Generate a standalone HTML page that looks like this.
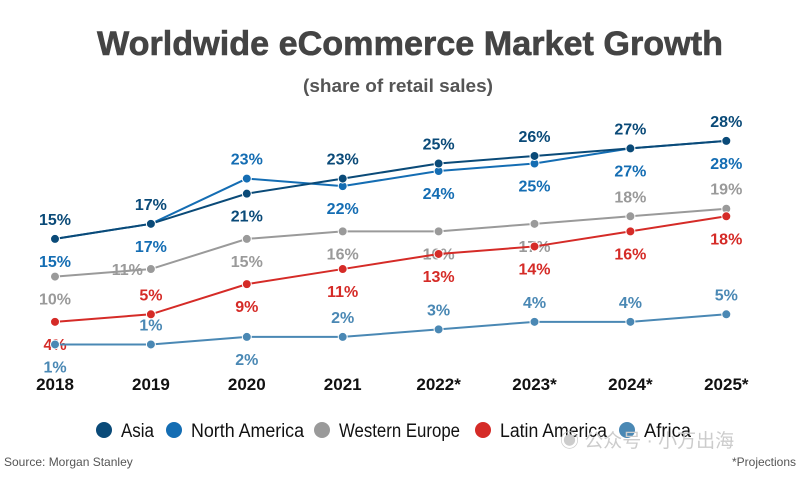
<!DOCTYPE html>
<html><head><meta charset="utf-8"><style>
body{margin:0;width:800px;height:473px;background:#fff;overflow:hidden;font-family:"Liberation Sans",sans-serif}
svg text{font-family:"Liberation Sans","Noto Sans CJK SC",sans-serif}
</style></head><body>
<svg id="c" width="800" height="473">
<text x="97" y="55" textLength="626" lengthAdjust="spacingAndGlyphs" font-size="34" font-weight="bold" fill="#444" stroke="#444" stroke-width="0.6">Worldwide eCommerce Market Growth</text>
<text x="303" y="92" textLength="190" lengthAdjust="spacingAndGlyphs" font-size="18" font-weight="bold" fill="#555">(share of retail sales)</text>
<g id="plot"></g>
<g id="legend"></g>
<text x="4" y="466" font-size="12" fill="#555" font-family="Liberation Serif">Source: Morgan Stanley</text>
<text x="796" y="466" text-anchor="end" font-size="12" fill="#555" font-family="Liberation Serif">*Projections</text>
<text x="560" y="447" font-size="19" fill="#ccc">◉ 公众号 · 小万出海</text>
</svg>
<script>
const years=["2018","2019","2020","2021","2022*","2023*","2024*","2025*"];
const asia=[15,17,21,23,25,26,27,28];
const northAmerica=[15,17,23,22,24,25,27,28];
const westernEurope=[10,11,15,16,16,17,18,19];
const latinAmerica=[4,5,9,11,13,14,16,18];
const africa=[1,1,2,2,3,4,4,5];
const seriesNames=["Asia","North America","Western Europe","Latin America","Africa"];
// label placement: 1 above, -1 below, 0 left
const asiaPos=[1,1,-1,1,1,1,1,1];
const naPos=[-1,-1,1,-1,-1,-1,-1,-1];
const wePos=[-1,0,-1,-1,-1,-1,1,1];
const laPos=[-1,1,-1,-1,-1,-1,-1,-1];
const afPos=[-1,1,-1,1,1,1,1,1];
const NS="http://www.w3.org/2000/svg";
const x=i=>55+i*95.9;
const y=v=>352-v*7.54;
const plot=document.getElementById('plot');
function mk(t,a,p){const e=document.createElementNS(NS,t);for(const k in a)e.setAttribute(k,a[k]);(p||plot).appendChild(e);return e;}
const series=[
 {d:westernEurope,c:"#9a9a9a",p:wePos,n:"western-europe"},
 {d:latinAmerica,c:"#d52b27",p:laPos,n:"latin-america"},
 {d:africa,c:"#4a88b4",p:afPos,n:"africa"},
 {d:northAmerica,c:"#146db3",p:naPos,n:"north-america"},
 {d:asia,c:"#0a4a78",p:asiaPos,n:"asia"}];
series.forEach(s=>{
 const l=mk('polyline',{points:s.d.map((v,i)=>x(i)+','+y(v)).join(' '),fill:'none',stroke:s.c,'stroke-width':2});
 
 
 s.d.forEach((v,i)=>{
  const c=mk('circle',{cx:x(i),cy:y(v),r:4.5,fill:s.c,stroke:'#fff','stroke-width':1});
  
  
  const pos=s.p[i];
  const t=mk('text',{x:pos===0?x(i)-8:x(i),y:pos===1?y(v)-14:pos===-1?y(v)+28:y(v)+6,'text-anchor':pos===0?'end':'middle','font-size':16,'font-weight':'bold',fill:s.c});
  t.textContent=v+'%';
  
  
 });
});
years.forEach((yr,i)=>{
 const t=mk('text',{x:x(i),y:390,'text-anchor':'middle','font-size':17,'font-weight':'bold',fill:'#111'});
 t.textContent=yr;
 
 
});
const lg=document.getElementById('legend');
const lc=["#0a4a78","#146db3","#9a9a9a","#d52b27","#4a88b4"];
const lx=[104,174,322,483,627];
const lw=[33,113,121,107,47];
seriesNames.forEach((n,i)=>{
 const c=mk('circle',{cx:lx[i],cy:430,r:8,fill:lc[i]},lg);
 
 
 const t=mk('text',{x:lx[i]+17,y:437,'font-size':19,fill:'#111',textLength:lw[i],lengthAdjust:'spacingAndGlyphs'},lg);
 t.textContent=n;
 
 
});
</script>
</body></html>
